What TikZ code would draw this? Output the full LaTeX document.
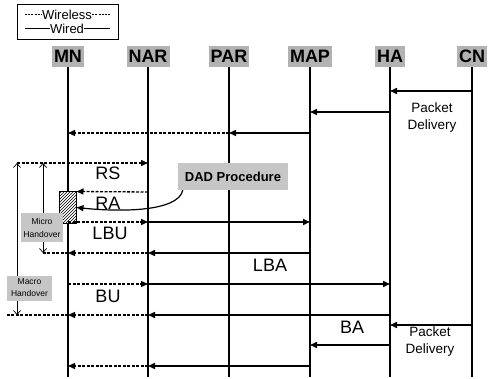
\documentclass[tikz,border=0pt]{standalone}
\usepackage{fontspec}
\setmainfont{Liberation Sans}
\usetikzlibrary{arrows.meta,patterns,calc}
\begin{document}
\begin{tikzpicture}[x=1pt,y=-1pt,
  hdr/.style={fill=gray!60, inner xsep=2pt, inner ysep=0pt, minimum height=21pt, font=\bfseries\fontsize{18}{18}\selectfont},
  life/.style={line width=1.2pt},
  wired/.style={line width=1.5pt, -{Triangle[length=7pt,width=6pt]}},
  wless/.style={line width=1.3pt, dash pattern=on 3pt off 1.5pt, -{Triangle[length=7pt,width=6pt]}},
  wlessplain/.style={line width=1.1pt, dash pattern=on 3pt off 1.5pt},
  msg/.style={font=\fontsize{18}{18}\selectfont, inner sep=0pt},
  pkt/.style={font=\fontsize{13.5}{17}\selectfont, align=center, inner sep=0pt},
  grbox/.style={fill=gray!45, inner sep=0pt, align=center},
  brk/.style={line width=0.7pt, {Straight Barb[length=4pt,width=7pt]}-{Straight Barb[length=4pt,width=7pt]}}
]
\useasboundingbox (0,0) rectangle (489,379);

% legend
\node[draw, line width=1pt, minimum width=101pt, minimum height=35pt, inner sep=0pt] (leg) at (67.5,22.5) {};
\node[font=\fontsize{13}{13}\selectfont, inner sep=0pt] (lwl) at (67,15) {Wireless};
\node[font=\fontsize{13}{13}\selectfont, inner sep=0pt] (lwd) at (67,29) {Wired};
\coordinate (la1) at (25,15); \coordinate (la2) at (110,15);
\coordinate (lb1) at (25,29); \coordinate (lb2) at (110,29);
\draw[line width=1pt, dash pattern=on 2pt off 1.2pt] (la1) -- (lwl.west);
\draw[line width=1pt, dash pattern=on 2pt off 1.2pt] (lwl.east) -- (la2);
\draw[line width=1pt] (lb1) -- (lwd.west);
\draw[line width=1pt] (lwd.east) -- (lb2);

% headers
\node[hdr] (MN)  at (68,56.5)  {MN};
\node[hdr] (NAR) at (148,56.5) {NAR};
\node[hdr] (PAR) at (229,56.5) {PAR};
\node[hdr] (MAP) at (310,56.5) {MAP};
\node[hdr] (HA)  at (390,56.5) {HA};
\node[hdr] (CN)  at (472,56.5) {CN};

% lifelines
\foreach \n in {MN,NAR,PAR,MAP,HA,CN}
  \draw[life] (\n.south) -- (\n.south |- 0,377);

% packet delivery before handover
\draw[wired] (CN |- 0,91) -- (HA |- 0,91);
\draw[wired] (HA |- 0,112) -- (MAP |- 0,112);
\draw[wired] (MAP |- 0,133) -- (PAR |- 0,133);
\draw[wless] (PAR |- 0,133) -- (MN |- 0,133);
\node[pkt] (pd1) at (432,118) {Packet\\Delivery};

% brackets
\coordinate (ot) at (17,163); \coordinate (ob) at (17,315);
\coordinate (it) at (43,163); \coordinate (ib) at (43,253);
\draw[brk] (ot) -- (ob);
\draw[brk] (it) -- (ib);

% RS
\draw[wless] (ot) -- (NAR |- 0,163);
\node[msg] (rs) at (108,173) {RS};

% hatched box
\node[draw, line width=1pt, preaction={fill=white}, pattern=north east lines, minimum width=17pt, minimum height=31pt, inner sep=0pt] (hb) at (67.5,207.5) {};

% RA
\draw[wless] (NAR |- 0,192) -- (hb.north east);
\node[msg] (ra) at (108,203) {RA};

% DAD
\node[grbox, minimum width=110pt, minimum height=27pt, font=\bfseries\fontsize{13}{13}\selectfont] (DAD) at (233,176.5) {DAD Procedure};
\draw[line width=1.2pt, -{Triangle[length=7pt,width=6pt]}] ($(DAD.south west)+(5,0)$) .. controls (178,212) and (120,212) .. (hb.east);

% LBU
\draw[wless] (MN |- 0,222) -- (NAR |- 0,222);
\draw[wired] (NAR |- 0,222) -- (MAP |- 0,222);
\node[msg] (lbu) at (110,233) {LBU};

% LBA
\draw[wired] (MAP |- 0,253) -- (NAR |- 0,253);
\draw[wless] (NAR |- 0,253) -- (MN |- 0,253);
\draw[wlessplain] (MN |- 0,253) -- (ib);
\node[msg] (lba) at (270,265) {LBA};

% BU
\draw[wless] (MN |- 0,284) -- (NAR |- 0,284);
\draw[wired] (NAR |- 0,284) -- (HA |- 0,284);
\node[msg] (bu) at (108,296) {BU};

% BA
\draw[wired] (HA |- 0,315) -- (NAR |- 0,315);
\draw[wless] (NAR |- 0,315) -- (MN |- 0,315);
\draw[wlessplain] (MN |- 0,315) -- (5,315);
\node[msg] (ba) at (352,327) {BA};

% packet delivery after handover
\draw[wired] (CN |- 0,325) -- (HA |- 0,325);
\draw[wired] (HA |- 0,345) -- (MAP |- 0,345);
\draw[wired] (MAP |- 0,366) -- (NAR |- 0,366);
\draw[wless] (NAR |- 0,366) -- (MN |- 0,366);
\node[pkt] (pd2) at (430,342) {Packet\\Delivery};

% handover labels
\node[grbox, minimum width=42pt, minimum height=29pt, font=\fontsize{8.5}{13}\selectfont] (micro) at (42,227.5) {Micro\\Handover};
\node[grbox, minimum width=45pt, minimum height=25pt, font=\fontsize{8.5}{12}\selectfont] (macro) at (29.5,288) {Macro\\Handover};
\end{tikzpicture}
\end{document}
